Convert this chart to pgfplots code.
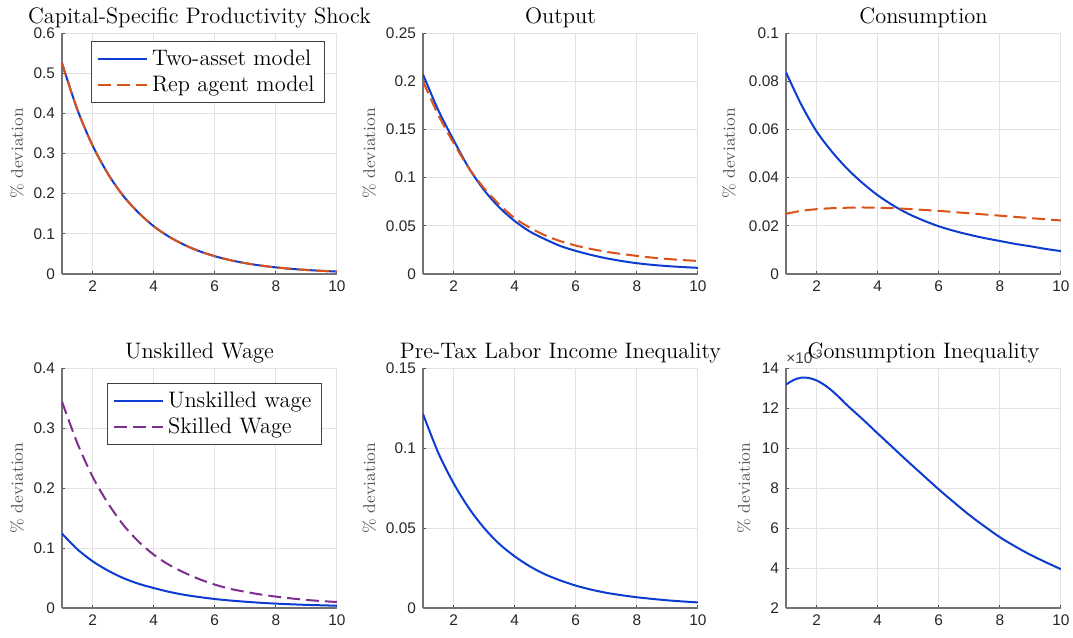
\documentclass[border=0pt]{standalone}
\usepackage{fontspec}
\usepackage{pgfplots}
\pgfplotsset{compat=1.18}
\newfontfamily\tickfont{Liberation Sans}

\definecolor{irfblue}{RGB}{12,60,208}
\definecolor{irfred}{RGB}{217,83,25}
\definecolor{irfpurple}{RGB}{126,47,142}
\definecolor{gridgray}{RGB}{226,226,226}

\pgfplotsset{
  irf/.style={
    scale only axis, width=137.5pt, height=120.5pt,
    xmin=1, xmax=10, xtick={2,4,6,8,10},
    axis x line*=bottom, axis y line*=left,
    axis line style={black!55, line width=0.6pt, -},
    grid=major, major grid style={gridgray, line width=0.5pt},
    tick align=inside, major tick length=1.5pt,
    tick style={black!70, line width=0.5pt},
    tick label style={font=\tickfont\fontsize{7.7}{9}\selectfont, text=black!85},
    /pgf/number format/assume math mode=true,
    scaled y ticks=false,
    yticklabel style={/pgf/number format/fixed, /pgf/number format/precision=3},
    every axis title shift=0pt,
    title style={at={(0.5,1)}, anchor=base, yshift=5pt, inner sep=0pt,
      font=\fontsize{11.2}{13}\selectfont},
    every axis y label/.style={at={(axis description cs:-0.164,0.5)}, rotate=90,
      anchor=center, font=\fontsize{8.5}{10}\selectfont, text=black!65},
    legend style={font=\fontsize{11.2}{13}\selectfont, draw=black!75, line width=0.5pt,
      fill=white, inner xsep=3pt, inner ysep=2pt, row sep=0pt, cells={anchor=west}},
    legend image code/.code={\draw[#1] (0pt,0pt) -- (24.5pt,0pt);},
    every axis plot/.append style={line width=1pt, smooth},
    ylabel={\% deviation},
  },
  blueline/.style={irfblue, solid},
  dashline/.style={dash pattern=on 6.5pt off 3pt},
}

\begin{document}
\begin{tikzpicture}
\useasboundingbox (0,0) rectangle (536.5pt,-319pt);

% Capital-specific productivity shock
\begin{axis}[irf, at={(31pt,-137pt)}, anchor=south west,
  title={Capital-Specific Productivity Shock},
  ymin=0, ymax=0.6, ytick={0,0.1,0.2,0.3,0.4,0.5,0.6},
  legend style={at={(0.956,0.967)}, anchor=north east}]
\addplot[blueline] coordinates {
  (1,0.525) (1.5,0.410) (2,0.320) (2.5,0.250) (3,0.195) (3.5,0.153) (4,0.119)
  (4.5,0.0930) (5,0.0727) (5.5,0.0567) (6,0.0443) (6.5,0.0346) (7,0.0270)
  (7.5,0.0211) (8,0.0165) (8.5,0.0129) (9,0.0101) (9.5,0.0079) (10,0.0061)};
\addlegendentry{Two-asset model}
\addplot[irfred, dashline] coordinates {
  (1,0.525) (1.5,0.410) (2,0.320) (2.5,0.250) (3,0.195) (3.5,0.153) (4,0.119)
  (4.5,0.0930) (5,0.0727) (5.5,0.0567) (6,0.0443) (6.5,0.0346) (7,0.0270)
  (7.5,0.0211) (8,0.0165) (8.5,0.0129) (9,0.0101) (9.5,0.0079) (10,0.0061)};
\addlegendentry{Rep agent model}
\end{axis}

% Output
\begin{axis}[irf, at={(211.5pt,-137pt)}, anchor=south west,
  every axis y label/.append style={at={(axis description cs:-0.196,0.5)}},
  title={Output},
  ymin=0, ymax=0.25, ytick={0,0.05,0.1,0.15,0.2,0.25}]
\addplot[blueline] coordinates {
  (1,0.207) (1.5,0.170) (2,0.139) (2.5,0.110) (3,0.087) (3.5,0.069) (4,0.055)
  (4.5,0.044) (5,0.036) (5.5,0.029) (6,0.0240) (6.5,0.0198) (7,0.0163)
  (7.5,0.0135) (8,0.0112) (8.5,0.0095) (9,0.0082) (9.5,0.0072) (10,0.0064)};
\addplot[irfred, dashline] coordinates {
  (1,0.200) (1.5,0.165) (2,0.136) (2.5,0.110) (3,0.089) (3.5,0.072) (4,0.058)
  (4.5,0.048) (5,0.040) (5.5,0.034) (6,0.0295) (6.5,0.0260) (7,0.0230)
  (7.5,0.0208) (8,0.0188) (8.5,0.0170) (9,0.0156) (9.5,0.0145) (10,0.0135)};
\end{axis}

% Consumption
\begin{axis}[irf, at={(393pt,-137pt)}, anchor=south west,
  every axis y label/.append style={at={(axis description cs:-0.207,0.5)}},
  title={Consumption},
  ymin=0, ymax=0.1, ytick={0,0.02,0.04,0.06,0.08,0.1}]
\addplot[blueline] coordinates {
  (1,0.0837) (1.5,0.0703) (2,0.0592) (2.5,0.0508) (3,0.0437) (3.5,0.0378)
  (4,0.0327) (4.5,0.0285) (5,0.0250) (5.5,0.0222) (6,0.0198) (6.5,0.0179)
  (7,0.0163) (7.5,0.0149) (8,0.0137) (8.5,0.0125) (9,0.0115) (9.5,0.0104) (10,0.0095)};
\addplot[irfred, dashline] coordinates {
  (1,0.0250) (1.5,0.0262) (2,0.0269) (2.5,0.0273) (3,0.0275) (3.5,0.0276)
  (4,0.0275) (4.5,0.0273) (5,0.0270) (5.5,0.0266) (6,0.0262) (6.5,0.0257)
  (7,0.0252) (7.5,0.0247) (8,0.0242) (8.5,0.0237) (9,0.0232) (9.5,0.0227) (10,0.0222)};
\end{axis}

% Wages
\begin{axis}[irf, at={(31pt,-304pt)}, anchor=south west, height=120pt,
  title={Unskilled Wage},
  ymin=0, ymax=0.4, ytick={0,0.1,0.2,0.3,0.4},
  legend style={at={(0.945,0.9375)}, anchor=north east}]
\addplot[blueline] coordinates {
  (1,0.124) (1.5,0.098) (2,0.078) (2.5,0.0625) (3,0.050) (3.5,0.0405) (4,0.0333)
  (4.5,0.027) (5,0.022) (5.5,0.0182) (6,0.0150) (6.5,0.0125) (7,0.0105)
  (7.5,0.0087) (8,0.0073) (8.5,0.0062) (9,0.0052) (9.5,0.0045) (10,0.0038)};
\addlegendentry{Unskilled wage}
\addplot[irfpurple, dashline] coordinates {
  (1,0.344) (1.5,0.275) (2,0.219) (2.5,0.175) (3,0.139) (3.5,0.111) (4,0.089)
  (4.5,0.072) (5,0.059) (5.5,0.048) (6,0.039) (6.5,0.032) (7,0.027)
  (7.5,0.0225) (8,0.019) (8.5,0.016) (9,0.0135) (9.5,0.0115) (10,0.010)};
\addlegendentry{Skilled Wage}
\end{axis}

% Pre-tax labor income inequality
\begin{axis}[irf, at={(211.5pt,-304pt)}, anchor=south west, height=120pt,
  every axis y label/.append style={at={(axis description cs:-0.196,0.5)}},
  title={Pre-Tax Labor Income Inequality},
  ymin=0, ymax=0.15, ytick={0,0.05,0.1,0.15}]
\addplot[blueline] coordinates {
  (1,0.1213) (1.5,0.097) (2,0.078) (2.5,0.0625) (3,0.050) (3.5,0.040) (4,0.0323)
  (4.5,0.026) (5,0.021) (5.5,0.0172) (6,0.014) (6.5,0.0115) (7,0.0095)
  (7.5,0.0080) (8,0.0067) (8.5,0.0057) (9,0.0048) (9.5,0.0041) (10,0.0035)};
\end{axis}

% Consumption inequality
\begin{axis}[irf, at={(393pt,-304pt)}, anchor=south west, height=120pt,
  every axis y label/.append style={at={(axis description cs:-0.153,0.5)}},
  title={Consumption Inequality},
  ymin=0.002, ymax=0.014,
  ytick={0.002,0.004,0.006,0.008,0.010,0.012,0.014},
  scaled y ticks=base 10:3,
  ytick scale label code/.code={\tickfont\fontsize{7.7}{9}\selectfont\textcolor{black!75}{×10\textsuperscript{#1}}},
  every y tick scale label/.style={at={(rel axis cs:0,1)}, anchor=south west,
    inner sep=0pt, yshift=2pt}]
\addplot[blueline] coordinates {
  (1,0.01317) (1.25,0.01340) (1.5,0.01352) (1.75,0.01350) (2,0.01338)
  (2.25,0.01316) (2.5,0.01287) (2.75,0.01252) (3,0.01214) (3.5,0.01145)
  (4,0.01073) (4.5,0.01002) (5,0.00931) (5.5,0.00862) (6,0.00793)
  (6.5,0.00728) (7,0.00665) (7.5,0.00608) (8,0.00554) (8.5,0.00508)
  (9,0.00466) (9.5,0.00429) (10,0.00394)};
\end{axis}
\end{tikzpicture}
\end{document}
